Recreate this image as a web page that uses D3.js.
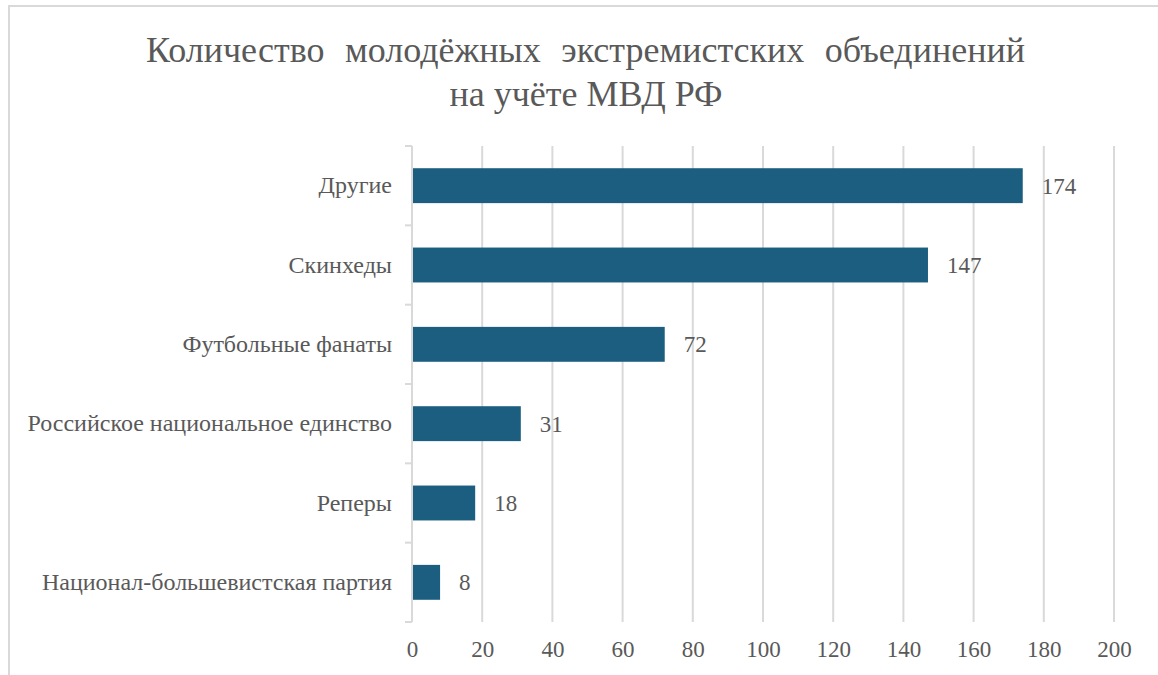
<!DOCTYPE html>
<html>
<head>
<meta charset="utf-8">
<script src="https://cdn.jsdelivr.net/npm/d3@7"></script>
<style>
  body { margin: 0; background: #fff; }
  svg { display: block; }
  svg text { font-family: "Liberation Serif", Tinos, "Times New Roman", serif; }
</style>
</head>
<body>
<div id="chart"></div>
<script>
const categories = [
  'Другие',
  'Скинхеды',
  'Футбольные фанаты',
  'Российское национальное единство',
  'Реперы',
  'Национал-большевистская партия'
];
const values = [174, 147, 72, 31, 18, 8];
const xTicks = [0, 20, 40, 60, 80, 100, 120, 140, 160, 180, 200];
const titleLines = ['Количество молодёжных экстремистских объединений', 'на учёте МВД РФ'];

const width = 1158;
const height = 675;
const margin = { top: 146, right: 44, bottom: 53, left: 412 };
const plotW = width - margin.left - margin.right;
const plotH = height - margin.top - margin.bottom;
const barColor = '#1b5e80';
const gridColor = '#d9d9d9';
const textColor = '#595959';

const svg = d3.select('#chart').append('svg')
  .attr('width', width)
  .attr('height', height);

// outer frame
svg.append('rect')
  .attr('x', 9).attr('y', 6)
  .attr('width', width + 20).attr('height', height + 20)
  .attr('fill', 'none')
  .attr('stroke', gridColor)
  .attr('stroke-width', 2);

// title
const title = svg.append('g').attr('fill', textColor);
const line1 = title.append('text')
  .attr('x', 585.5).attr('y', 62)
  .attr('text-anchor', 'middle')
  .attr('font-size', 36)
  .text(titleLines[0]);
title.append('text')
  .attr('x', 586).attr('y', 106)
  .attr('text-anchor', 'middle')
  .attr('font-size', 36)
  .text(titleLines[1]);
// first line is stretched a bit with wider word gaps
const natural = line1.node().getComputedTextLength();
line1.attr('word-spacing', Math.max(0, (879 - natural) / 3));

const chart = svg.append('g')
  .attr('transform', 'translate(' + margin.left + ',' + margin.top + ')');

const x = d3.scaleLinear().domain([0, 200]).range([0, plotW]);
const y = d3.scaleBand().domain(categories).range([0, plotH]).paddingInner(0.56).paddingOuter(0.28);

// gridlines
chart.append('g')
  .attr('class', 'x grid')
  .selectAll('line')
  .data(xTicks.filter(d => d > 0))
  .join('line')
  .attr('x1', d => x(d)).attr('x2', d => x(d))
  .attr('y1', 0).attr('y2', plotH)
  .attr('stroke', gridColor)
  .attr('stroke-width', 2);

// x axis labels
const xAxis = chart.append('g')
  .attr('class', 'x axis')
  .attr('transform', 'translate(0,' + plotH + ')')
  .call(d3.axisBottom(x).tickValues(xTicks).tickSize(0).tickPadding(19));
xAxis.select('.domain').remove();
xAxis.selectAll('text').attr('font-size', 23).attr('fill', textColor);

// bars
chart.selectAll('.bar')
  .data(values)
  .join('rect')
  .attr('class', 'bar')
  .attr('x', 0)
  .attr('y', (d, i) => y(categories[i]))
  .attr('width', d => x(d))
  .attr('height', y.bandwidth())
  .attr('fill', barColor);

// value labels
chart.selectAll('.val')
  .data(values)
  .join('text')
  .attr('class', 'val')
  .attr('x', d => x(d) + 19)
  .attr('y', (d, i) => y(categories[i]) + y.bandwidth() / 2)
  .attr('dy', '0.35em')
  .attr('font-size', 23)
  .attr('fill', textColor)
  .text(d => d);

// y axis: line, band boundary ticks and labels
chart.append('line')
  .attr('x1', 0).attr('x2', 0)
  .attr('y1', 0).attr('y2', plotH)
  .attr('stroke', gridColor)
  .attr('stroke-width', 2);
chart.append('g')
  .selectAll('line')
  .data(d3.range(categories.length + 1))
  .join('line')
  .attr('x1', -7).attr('x2', 0)
  .attr('y1', i => i * y.step()).attr('y2', i => i * y.step())
  .attr('stroke', gridColor)
  .attr('stroke-width', 2);
const yAxis = chart.append('g')
  .attr('class', 'y axis')
  .call(d3.axisLeft(y).tickSize(0).tickPadding(20));
yAxis.select('.domain').remove();
yAxis.selectAll('text').attr('font-size', 24).attr('fill', textColor);
</script>
</body>
</html>
